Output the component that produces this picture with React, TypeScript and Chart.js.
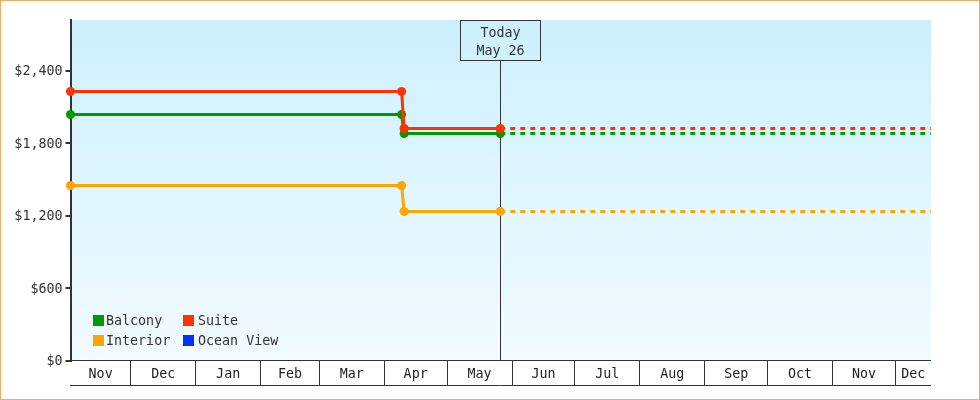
import { useEffect, useRef } from 'react';
import Chart from 'chart.js/auto';

// x values are days counted from about Nov 2
const monthNames = ['Nov', 'Dec', 'Jan', 'Feb', 'Mar', 'Apr', 'May', 'Jun', 'Jul', 'Aug', 'Sep', 'Oct', 'Nov', 'Dec'];
const monthEdges = [0.25, 29, 60, 91, 119, 150, 180, 211, 241, 272, 303, 333, 364, 394, 411];
const priceTicks = [0, 600, 1200, 1800, 2400];
const yMax = 2822;

const pastDays = [0.25, 158.3, 159.5, 205.4];
const futureDays = [205.4, 411];
const todayDay = 205.4;
const todayLabel = ['Today', 'May 26'];

const suitePast = [2230, 2230, 1924, 1924];
const suiteFuture = [1924, 1924];
const balconyPast = [2040, 2040, 1883, 1883];
const balconyFuture = [1883, 1883];
const interiorPast = [1452, 1452, 1237, 1237];
const interiorFuture = [1237, 1237];

const legendNames = ['Balcony', 'Suite', 'Interior', 'Ocean View'];
const legendColors = ['#009900', '#FF3300', '#FFA500', '#0033FF'];

const FONT = '"DejaVu Sans Mono", monospace';
const FONT_SIZE = 13.33;
const INK = '#333333';

const toPoints = (days: number[], values: number[]) => days.map((d, i) => ({ x: d, y: values[i] }));

const solid = (label: string, color: string, values: number[]) => ({
  label,
  data: toPoints(pastDays, values),
  borderColor: color,
  backgroundColor: color,
  borderWidth: 3,
  pointRadius: 4.5,
  pointBorderWidth: 0,
  clip: false as const,
});

const dashed = (label: string, color: string, values: number[]) => ({
  label,
  data: toPoints(futureDays, values),
  borderColor: color,
  borderWidth: 3,
  borderDash: [5, 5],
  pointRadius: 0,
  clip: false as const,
});

const decorations = {
  id: 'decorations',
  beforeDraw(chart: any) {
    const { ctx, chartArea: a } = chart;
    const grad = ctx.createLinearGradient(0, a.top, 0, a.bottom);
    grad.addColorStop(0, '#CCF0FF');
    grad.addColorStop(1, '#F2FBFF');
    ctx.fillStyle = grad;
    ctx.fillRect(a.left, a.top, a.right - a.left, a.bottom - a.top);
  },
  beforeDatasetsDraw(chart: any) {
    const { ctx, chartArea: a, scales } = chart;
    const x = Math.round(scales.x.getPixelForValue(todayDay)) + 0.5;
    ctx.save();
    ctx.strokeStyle = INK;
    ctx.lineWidth = 1;
    ctx.beginPath();
    ctx.moveTo(x, a.top + 40);
    ctx.lineTo(x, a.bottom);
    ctx.stroke();
    ctx.strokeRect(x - 40, a.top + 0.5, 80, 40);
    ctx.fillStyle = INK;
    ctx.font = `${FONT_SIZE}px ${FONT}`;
    ctx.textAlign = 'center';
    ctx.textBaseline = 'middle';
    ctx.fillText(todayLabel[0], x, a.top + 13.5);
    ctx.fillText(todayLabel[1], x, a.top + 32);
    ctx.restore();
  },
  afterDraw(chart: any) {
    const { ctx, chartArea: a } = chart;
    ctx.save();
    // top and bottom rules of the month strip
    ctx.strokeStyle = INK;
    ctx.lineWidth = 1;
    ctx.beginPath();
    ctx.moveTo(a.left - 0.5, a.bottom - 0.5);
    ctx.lineTo(a.right, a.bottom - 0.5);
    ctx.moveTo(a.left - 0.5, a.bottom + 24.5);
    ctx.lineTo(a.right, a.bottom + 24.5);
    ctx.stroke();
    // legend
    ctx.font = `${FONT_SIZE}px ${FONT}`;
    ctx.textBaseline = 'middle';
    ctx.textAlign = 'left';
    legendNames.forEach((name, i) => {
      const col = i % 2;
      const row = Math.floor(i / 2);
      const lx = 93 + col * 90;
      const ly = 315 + row * 20;
      ctx.fillStyle = legendColors[i];
      ctx.fillRect(lx, ly, 11, 11);
      ctx.fillStyle = INK;
      ctx.fillText(name, lx + (col ? 15 : 13), ly + 6.5);
    });
    ctx.restore();
  },
};

export default function App() {
  const canvasRef = useRef<HTMLCanvasElement>(null);

  useEffect(() => {
    document.body.style.margin = '0';
    if (!canvasRef.current) return;

    const chart = new Chart(canvasRef.current, {
      type: 'line',
      data: {
        datasets: [
          solid('Suite', legendColors[1], suitePast),
          solid('Balcony', legendColors[0], balconyPast),
          solid('Interior', legendColors[2], interiorPast),
          dashed('Suite forecast', legendColors[1], suiteFuture),
          dashed('Balcony forecast', legendColors[0], balconyFuture),
          dashed('Interior forecast', legendColors[2], interiorFuture),
        ],
      },
      options: {
        responsive: false,
        animation: false,
        devicePixelRatio: 1,
        layout: { padding: { top: 20, right: 49, left: 0, bottom: 0 } },
        plugins: { legend: { display: false }, tooltip: { enabled: false } },
        scales: {
          x: {
            type: 'linear',
            min: monthEdges[0],
            max: monthEdges[monthEdges.length - 1],
            afterFit: (scale: any) => {
              scale.height = 39;
            },
            // ticks at the month edges draw the strip, ticks in the middle carry the names
            afterBuildTicks: (scale: any) => {
              const ticks: { value: number }[] = [];
              monthNames.forEach((_, i) => {
                ticks.push({ value: monthEdges[i] });
                ticks.push({ value: (monthEdges[i] + monthEdges[i + 1]) / 2 });
              });
              ticks.push({ value: monthEdges[monthEdges.length - 1] });
              scale.ticks = ticks;
            },
            border: { display: false },
            grid: {
              drawOnChartArea: false,
              tickLength: 24,
              lineWidth: 1,
              color: (c: any) => {
                const v = c.tick ? c.tick.value : -1;
                const i = monthEdges.indexOf(v);
                return i > 0 && i < monthEdges.length - 1 ? INK : 'transparent';
              },
            },
            ticks: {
              autoSkip: false,
              maxRotation: 0,
              padding: -18,
              color: '#222222',
              font: { family: FONT, size: FONT_SIZE },
              callback: (value: any) => {
                const i = monthNames.findIndex((_, k) => (monthEdges[k] + monthEdges[k + 1]) / 2 === value);
                return i >= 0 ? monthNames[i] : '';
              },
            },
          },
          y: {
            min: 0,
            max: yMax,
            afterFit: (scale: any) => {
              scale.width = 70.5;
            },
            afterBuildTicks: (scale: any) => {
              scale.ticks = priceTicks.map((value) => ({ value }));
            },
            border: { display: true, color: INK, width: 2 },
            grid: { drawOnChartArea: false, tickLength: 5, lineWidth: 2, color: INK },
            ticks: {
              padding: 3,
              labelOffset: 1,
              color: INK,
              font: { family: FONT, size: FONT_SIZE },
              callback: (value: any) => '$' + Number(value).toLocaleString('en-US'),
            },
          },
        },
      },
      plugins: [decorations],
    });

    return () => {
      chart.destroy();
    };
  }, []);

  return (
    <canvas
      ref={canvasRef}
      width={980}
      height={400}
      style={{ display: 'block', outline: '1px solid #EFAD63', outlineOffset: '-1px' }}
    />
  );
}
